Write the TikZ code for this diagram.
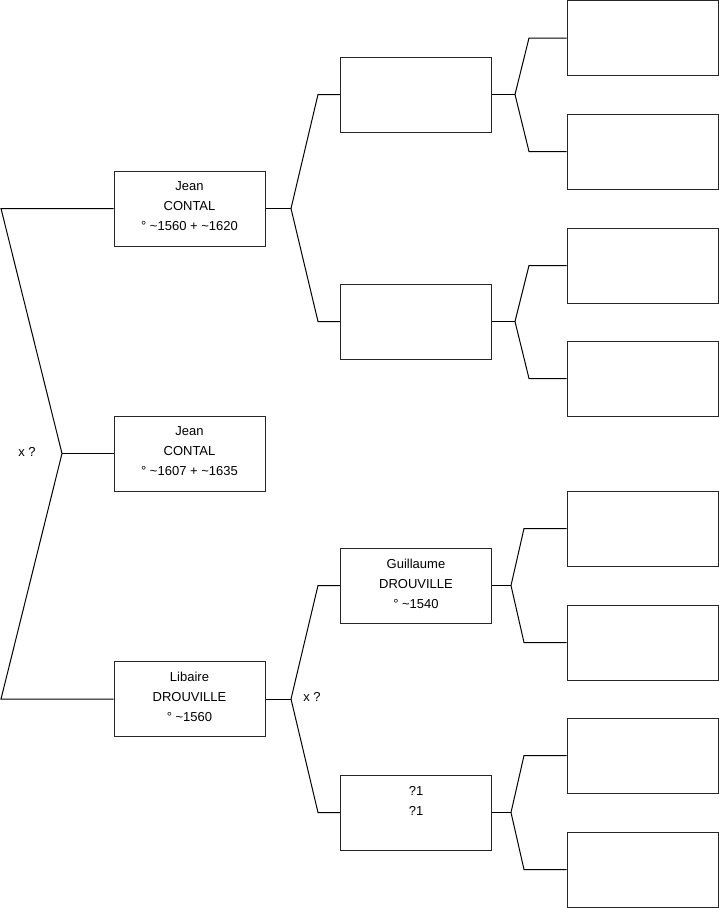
\documentclass[tikz,border=0pt]{standalone}
\usepackage{fontspec}
\setmainfont{Liberation Sans}
\begin{document}
\begin{tikzpicture}[x=1pt,y=-1pt,
  person/.style={draw=black!85,line width=1pt,minimum width=151pt,minimum height=75pt,inner sep=0pt,align=center,font=\fontsize{13}{20}\selectfont},
  link/.style={draw=black,line width=1pt},
  lab/.style={font=\fontsize{13}{14}\selectfont,inner sep=0pt}]
\useasboundingbox (0,0) rectangle (719,908);
% generation 1
\node[person] (b1) at (189.5,208.5) {Jean\\CONTAL\\° \textasciitilde1560 + \textasciitilde1620\\[-16pt]\mbox{}};
\node[person] (b2) at (189.5,453.5) {Jean\\CONTAL\\° \textasciitilde1607 + \textasciitilde1635\\[-16pt]\mbox{}};
\node[person] (b3) at (189.5,699) {Libaire\\DROUVILLE\\° \textasciitilde1560\\[-16pt]\mbox{}};
% generation 3
\node[person] (c1) at (416,94.5) {};
\node[person] (c2) at (416,321.5) {};
\node[person] (c3) at (416,585.5) {Guillaume\\DROUVILLE\\° \textasciitilde1540\\[-16pt]\mbox{}};
\node[person] (c4) at (416,812.5) {?1\\?1\\\mbox{}\\[-16pt]\mbox{}};
% generation 4
\node[person] (d1) at (642.5,38) {};
\node[person] (d2) at (642.5,151.5) {};
\node[person] (d3) at (642.5,265.5) {};
\node[person] (d4) at (642.5,378.5) {};
\node[person] (d5) at (642.5,528.5) {};
\node[person] (d6) at (642.5,642.5) {};
\node[person] (d7) at (642.5,755.5) {};
\node[person] (d8) at (642.5,869.5) {};
% labels
\node[lab] (x1) at (27,452) {x ?};
\node[lab] (x2) at (312,697) {x ?};
% left fork
\coordinate (l1) at (1,208.5);
\coordinate (l2) at (62,453.5);
\coordinate (l3) at (1,699);
\draw[link] (b1.west) -- (l1) -- (l2) -- (l3) -- (b3.west);
\draw[link] (l2) -- (b2.west);
% fork from b1
\coordinate (f1) at (291,208.5);
\draw[link] (b1.east) -- (f1);
\draw[link] (f1) -- (318,94.5) -- (c1.west);
\draw[link] (f1) -- (318,321.5) -- (c2.west);
% fork from b3
\coordinate (f3) at (291,699);
\draw[link] (b3.east) -- (f3);
\draw[link] (f3) -- (318,585.5) -- (c3.west);
\draw[link] (f3) -- (318,812.5) -- (c4.west);
% forks from generation 3
\coordinate (g1) at (515,94.5);
\draw[link] (c1.east) -- (g1);
\draw[link] (g1) -- (529,38) -- (d1.west);
\draw[link] (g1) -- (529,151.5) -- (d2.west);
\coordinate (g2) at (515,321.5);
\draw[link] (c2.east) -- (g2);
\draw[link] (g2) -- (529,265.5) -- (d3.west);
\draw[link] (g2) -- (529,378.5) -- (d4.west);
\coordinate (g3) at (511,585.5);
\draw[link] (c3.east) -- (g3);
\draw[link] (g3) -- (524,528.5) -- (d5.west);
\draw[link] (g3) -- (524,642.5) -- (d6.west);
\coordinate (g4) at (511,812.5);
\draw[link] (c4.east) -- (g4);
\draw[link] (g4) -- (524,755.5) -- (d7.west);
\draw[link] (g4) -- (524,869.5) -- (d8.west);
\end{tikzpicture}
\end{document}
